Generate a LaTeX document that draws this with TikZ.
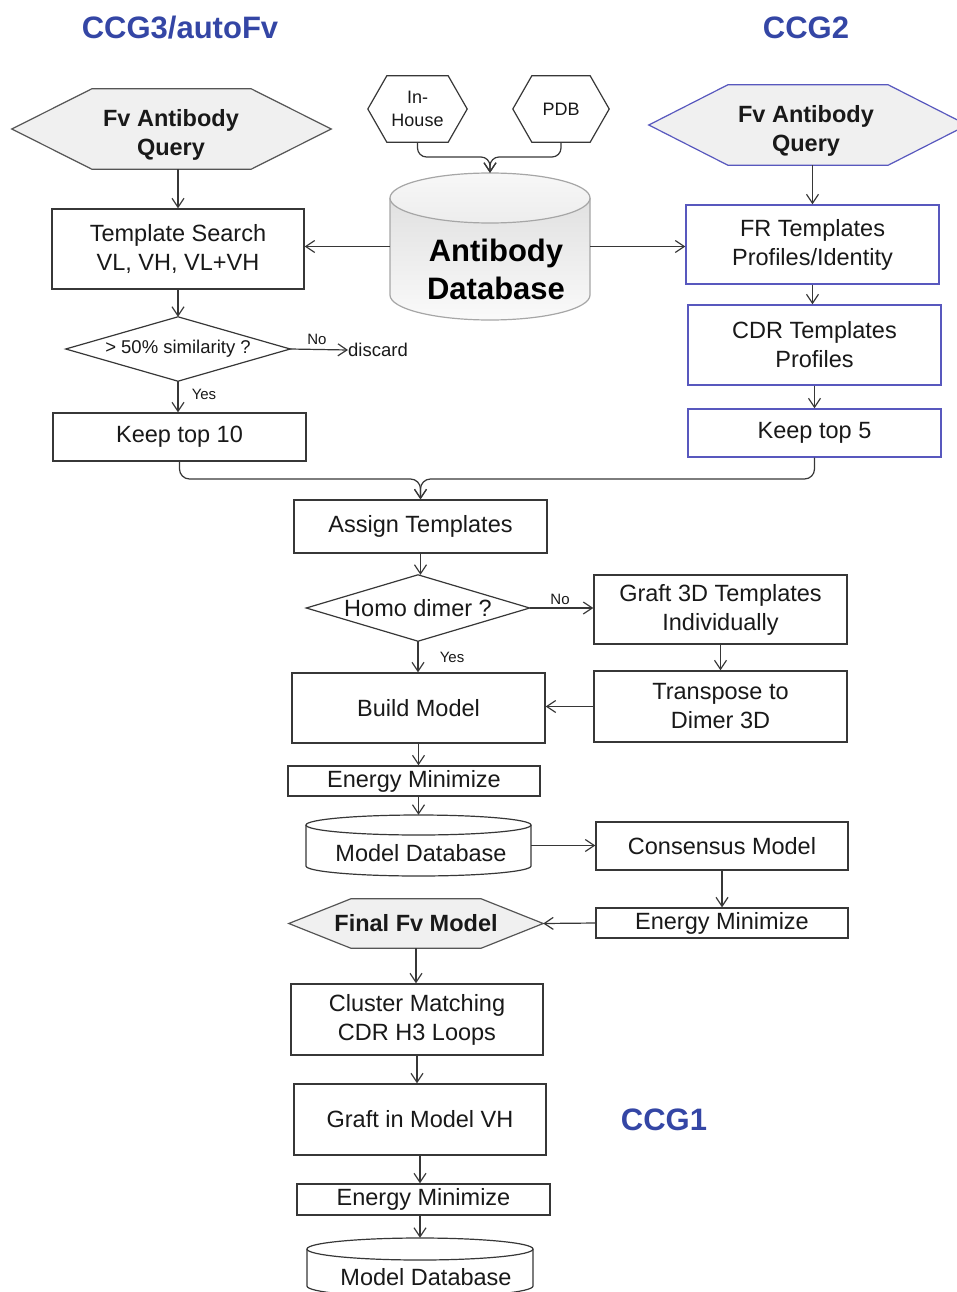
\documentclass[tikz,border=0pt]{standalone}
\usepackage{fontspec}
\setmainfont{Liberation Sans}
\usetikzlibrary{arrows.meta,backgrounds,calc}
\definecolor{ccgblue}{RGB}{52,70,165}
\definecolor{boxblue}{RGB}{88,88,190}
\definecolor{lineg}{RGB}{55,55,55}
\definecolor{hexfill}{RGB}{240,240,240}
\newcommand\fz[2]{\fontsize{#1}{#2}\selectfont}
\newcommand\hexo[3]{%
  \begin{scope}[on background layer]
  \draw[#3] (#1.west) -- ([xshift=#2]#1.north west) -- ([xshift=-#2]#1.north east) -- (#1.east) -- ([xshift=-#2]#1.south east) -- ([xshift=#2]#1.south west) -- cycle;
  \end{scope}}
\newcommand\diamo[1]{%
  \begin{scope}[on background layer]
  \draw[dpath] (#1.west) -- (#1.north) -- (#1.east) -- (#1.south) -- cycle;
  \end{scope}}
\tikzset{
  box/.style={draw=lineg, line width=1.3pt, fill=white, align=center, inner sep=0pt, font=\fz{23.5}{29}, text=black!90},
  bbox/.style={box, draw=boxblue},
  shapebox/.style={draw=none, align=center, inner sep=0pt, font=\fz{23.5}{29}, text=black!90},
  arr/.style={draw=lineg, line width=1.2pt, -{Straight Barb[length=9pt,width=12pt]}},
  lbl/.style={font=\fz{15}{18}, inner sep=0pt, text=black!90},
  titlestyle/.style={font=\fz{31}{36}\bfseries, text=ccgblue, inner sep=0pt},
  hexpath/.style={draw=lineg!85, line width=1.2pt, fill=hexfill},
  hexblue/.style={draw=boxblue, line width=1.2pt, fill=hexfill},
  dpath/.style={draw=lineg, line width=1.2pt, fill=white},
  cylline/.style={draw=lineg, line width=1.2pt},
}
\begin{document}
\begin{tikzpicture}[x=1pt,y=1pt]
\useasboundingbox (0,0) rectangle (956,-1292);
\clip (0,0) rectangle (956,-1292);

% titles
\node[titlestyle] (t3) at (180,-28) {CCG3/autoFv};
\node[titlestyle] (t2) at (806,-28) {CCG2};
\node[titlestyle] (t1) at (664,-1120) {CCG1};

% hexagon queries
\node[shapebox, minimum width=319pt, minimum height=80pt] (hexL) at (171.5,-129) {};
\hexo{hexL}{80pt}{hexpath}
\node[shapebox, font=\fz{23.5}{29}\bfseries] (hexLt) at (171,-135) {Fv Antibody\\Query};
\node[shapebox, minimum width=318pt, minimum height=80pt] (hexR) at (808,-125) {};
\hexo{hexR}{79pt}{hexblue}
\node[shapebox, font=\fz{23.5}{29}\bfseries] (hexRt) at (806,-131) {Fv Antibody\\Query};

% In-House / PDB
\node[shapebox, font=\fz{18}{23}, minimum width=99pt, minimum height=66pt] (inh) at (417.5,-109) {In-\\House};
\hexo{inh}{19pt}{draw=lineg, line width=1.2pt, fill=white}
\node[shapebox, font=\fz{18}{23}, minimum width=96pt, minimum height=66pt] (pdb) at (561,-109) {PDB};
\hexo{pdb}{19pt}{draw=lineg, line width=1.2pt, fill=white}

% Antibody database cylinder
\node[shapebox, minimum width=200pt, minimum height=147pt] (db) at (490,-246.5) {};
\shade[top color=gray!28, bottom color=gray!4] (390,-198) -- (390,-295) arc[start angle=180, end angle=360, x radius=100, y radius=25] -- (590,-198) arc[start angle=0, end angle=180, x radius=100, y radius=25] -- cycle;
\draw[draw=gray!70, line width=1.2pt] (390,-198) -- (390,-295) arc[start angle=180, end angle=360, x radius=100, y radius=25] -- (590,-198);
\draw[draw=gray!70, line width=1.2pt, top color=gray!6, bottom color=gray!14] (490,-198) ellipse[x radius=100, y radius=25];
\node[font=\fz{31}{38}\bfseries, align=center, inner sep=0pt] (dbtext) at (496,-269) {Antibody\\Database};

% left column
\node[box, minimum width=252pt, minimum height=80pt] (ts) at (178,-249) {Template Search\\VL, VH, VL+VH};
\node[shapebox, font=\fz{18.5}{22}, minimum width=224pt, minimum height=64pt] (d1) at (178,-349) {> 50\% similarity ?};
\diamo{d1}
\node[anchor=west, inner sep=0pt, font=\fz{18.5}{22}, text=black!90] (disc) at (348,-350) {discard};
\node[box, minimum width=253pt, minimum height=48pt] (k10) at (179.5,-437) {Keep top 10};

% right column
\node[bbox, minimum width=253pt, minimum height=79pt] (fr) at (812.5,-244.5) {FR Templates\\Profiles/Identity};
\node[bbox, minimum width=253pt, minimum height=80pt] (cdr) at (814.5,-345) {CDR Templates\\Profiles};
\node[bbox, minimum width=253pt, minimum height=48pt] (k5) at (814.5,-433) {Keep top 5};

% middle
\node[box, minimum width=253pt, minimum height=53pt] (assign) at (420.5,-526.5) {Assign Templates};
\node[shapebox, minimum width=223pt, minimum height=66pt] (d2) at (418,-608) {Homo dimer ?};
\diamo{d2}
\node[box, minimum width=253pt, minimum height=69pt] (graft) at (720.5,-609.5) {Graft 3D Templates\\Individually};
\node[box, minimum width=253pt, minimum height=71pt] (transp) at (720.5,-706.5) {Transpose to\\Dimer 3D};
\node[box, minimum width=253pt, minimum height=70pt] (build) at (418.5,-708) {Build Model};
\node[box, minimum width=252pt, minimum height=30pt] (em1) at (414,-781) {Energy Minimize};

% model database 1
\node[shapebox, minimum width=225pt, minimum height=61pt] (md1) at (418.5,-845.5) {};
\draw[cylline, fill=white] (306,-825) -- (306,-866) arc[start angle=180, end angle=360, x radius=112.5, y radius=10] -- (531,-825);
\draw[cylline, fill=white] (418.5,-825) ellipse[x radius=112.5, y radius=10];
\node[shapebox] (md1t) at (421,-853) {Model Database};

\node[box, minimum width=252pt, minimum height=48pt] (cons) at (722,-846) {Consensus Model};
\node[box, minimum width=252pt, minimum height=30pt] (em2) at (722,-923) {Energy Minimize};
\node[shapebox, font=\fz{23.5}{29}\bfseries, minimum width=254pt, minimum height=49pt] (fin) at (416,-923.5) {Final Fv Model};
\hexo{fin}{62pt}{hexpath}
\node[box, minimum width=252pt, minimum height=71pt] (clus) at (417,-1019.5) {Cluster Matching\\CDR H3 Loops};
\node[box, minimum width=252pt, minimum height=71pt] (gvh) at (420,-1119.5) {Graft in Model VH};
\node[box, minimum width=253pt, minimum height=31pt] (em3) at (423.5,-1199.5) {Energy Minimize};

% model database 2
\node[shapebox, minimum width=226pt, minimum height=60pt] (md2) at (420,-1268) {};
\draw[cylline, fill=white] (307,-1249) -- (307,-1286) arc[start angle=180, end angle=360, x radius=113, y radius=11] -- (533,-1249);
\draw[cylline, fill=white] (420,-1249) ellipse[x radius=113, y radius=11];
\node[shapebox] (md2t) at (426,-1277) {Model Database};

% connectors top
\coordinate (j0) at (db.north |- 0,-157);
\draw[arr, rounded corners=9pt] (inh.south) |- (j0) -- (db.north);
\draw[arr, rounded corners=9pt] (pdb.south) |- (j0) -- (db.north);
\draw[arr] (db.west) -- (db.west -| ts.east);
\draw[arr] (db.east) -- (db.east -| fr.west);

% left column connectors
\draw[arr] (hexL.south -| ts.north) -- (ts.north);
\draw[arr] (ts.south) -- (d1.north);
\draw[arr] (d1.east) -- (disc.west);
\node[lbl] (no1) at (317,-339) {No};
\draw[arr] (d1.south) -- (d1.south |- k10.north);
\node[lbl] (yes1) at (204,-394) {Yes};

% right column connectors
\draw[arr] (hexR.south -| fr.north) -- (fr.north);
\draw[arr] (fr.south) -- (fr.south |- cdr.north);
\draw[arr] (cdr.south) -- (k5.north);

% merge
\coordinate (j1) at (assign.north |- 0,-479);
\draw[arr, rounded corners=10pt] (k10.south) |- (j1) -- (assign.north);
\draw[arr, rounded corners=10pt] (k5.south) |- (j1) -- (assign.north);

% middle connectors
\draw[arr] (assign.south) -- (assign.south |- d2.north);
\draw[arr] (d2.east) -- (d2.east -| graft.west);
\node[lbl] (no2) at (560,-599) {No};
\draw[arr] (d2.south) -- (d2.south |- build.north);
\node[lbl] (yes2) at (452,-657) {Yes};
\draw[arr] (graft.south) -- (transp.north);
\draw[arr] (transp.west) -- (transp.west -| build.east);
\draw[arr] (build.south) -- (build.south |- em1.north);
\draw[arr] (md1.north |- em1.south) -- (md1.north);
\draw[arr] (md1.east) -- (md1.east -| cons.west);
\draw[arr] (cons.south) -- (em2.north);
\draw[arr] (em2.west) -- (fin.east);
\draw[arr] (fin.south) -- (fin.south |- clus.north);
\draw[arr] (clus.south) -- (clus.south |- gvh.north);
\draw[arr] (gvh.south) -- (gvh.south |- em3.north);
\draw[arr] (md2.north |- em3.south) -- (md2.north);
\end{tikzpicture}
\end{document}
